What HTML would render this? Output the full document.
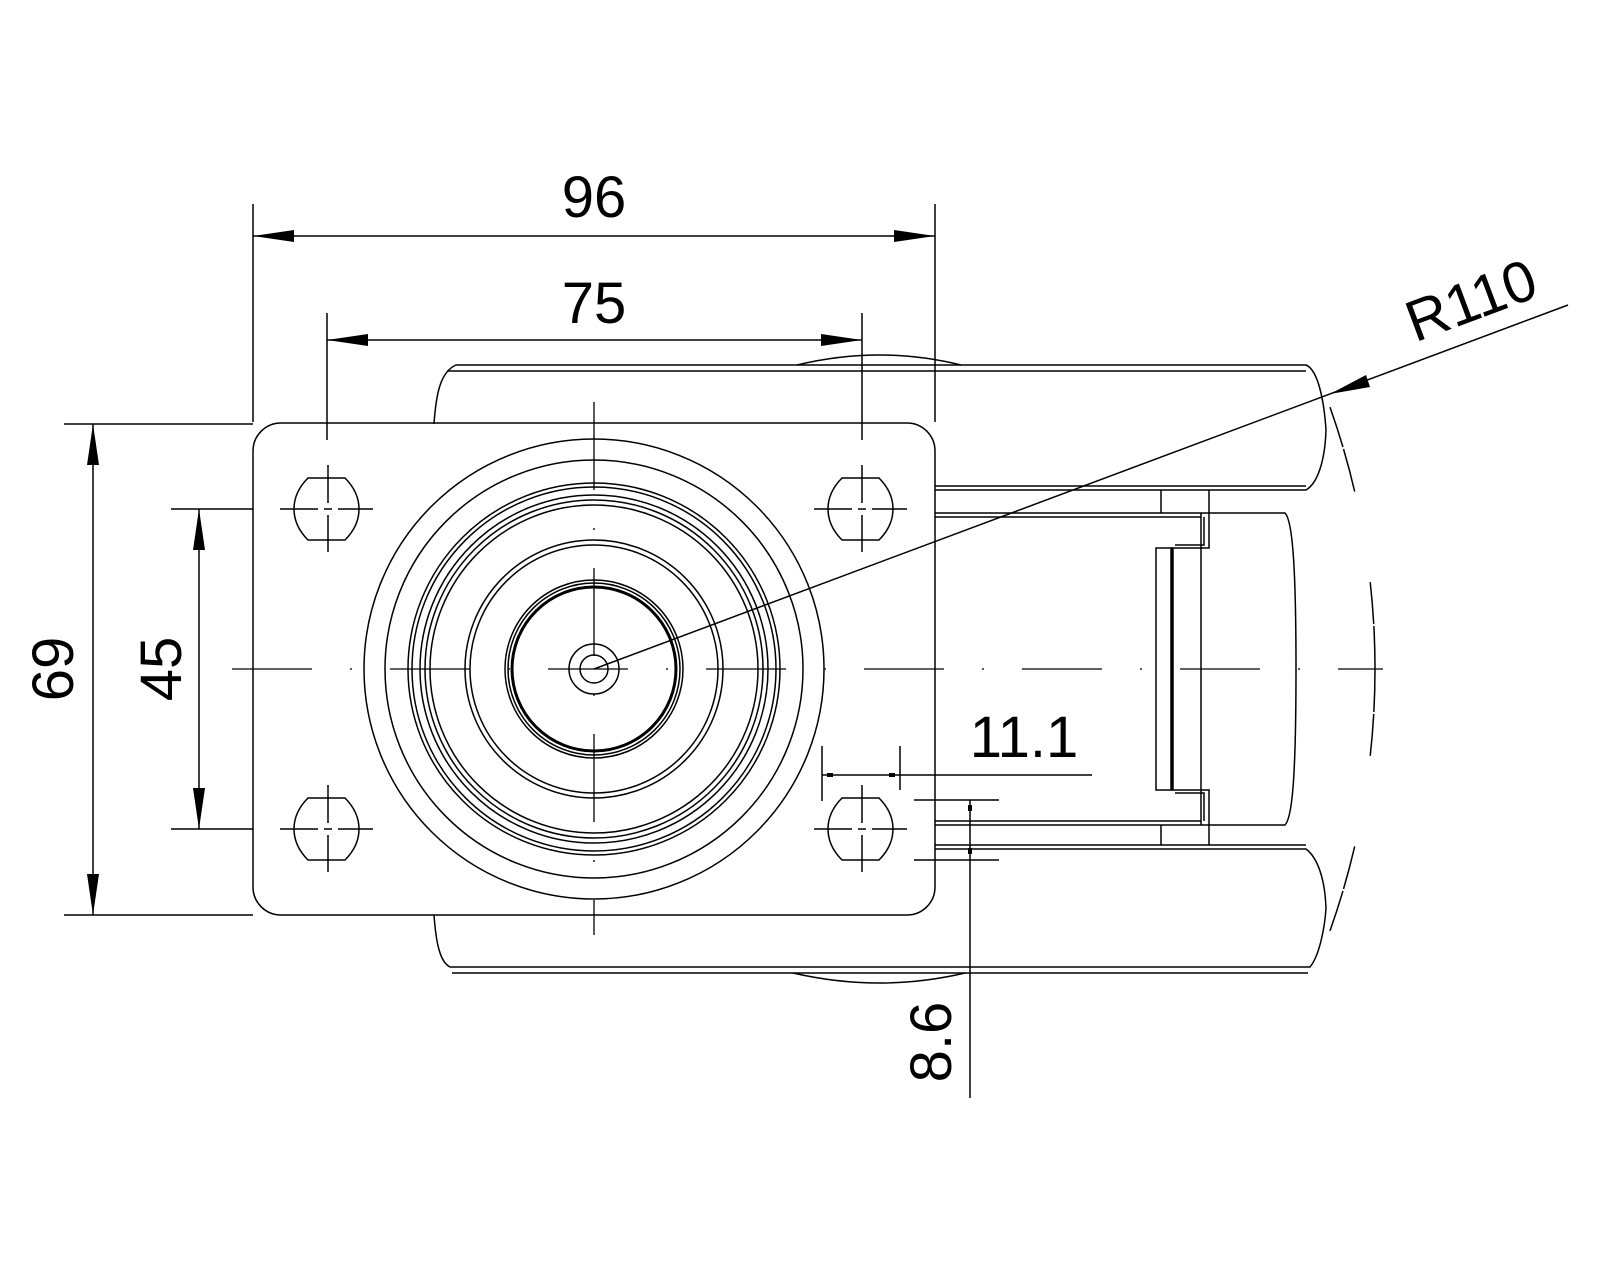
<!DOCTYPE html>
<html><head><meta charset="utf-8"><style>
html,body{margin:0;padding:0;background:#fff}
svg{display:block}
text{font-family:"Liberation Sans",sans-serif;fill:#000}
</style></head><body>
<svg width="1600" height="1280" viewBox="0 0 1600 1280" xmlns="http://www.w3.org/2000/svg">
<g fill="none" stroke="#000" stroke-width="1.5">
<!-- top rail -->
<path d="M434,424 C436,395 440,372 456,365 L1306,365 C1318,370 1324,400 1326,430 C1325,460 1318,483 1306,490 L935,490"/>
<path d="M447,371 L1306,371"/>
<path d="M935,486 L1306,486"/>
<!-- bottom rail -->
<path d="M434,915 C436,943 440,962 450,967 L1310,967 C1320,955 1325,925 1326,908 C1325,880 1318,858 1306,849 L935,849"/>
<path d="M452,973 L1308,973"/>
<path d="M935,845 L1306,845"/>
<!-- wheel arcs beyond rails -->
<path d="M797,365 Q880,345 961,365"/>
<path d="M793,973 Q880,993 965,973"/>
<!-- wheel body -->
<path d="M935,513 L1285,513 C1292,520 1296,560 1296,669 C1296,780 1292,818 1285,825 L935,825"/>
<path d="M935,517 L1201,517 M935,821 L1201,821"/>
<path d="M1201,513 L1201,825"/>
<path d="M1161,490 L1161,513 M1209,490 L1209,513 M1161,825 L1161,845 M1209,825 L1209,845"/>
<path d="M1209,513 L1209,548 L1172,548 L1172,790 L1209,790 L1209,825"/>
<path d="M1204,517 L1204,545 L1175,545 M1175,793 L1204,793 L1204,821"/>
<rect x="1156" y="548" width="16" height="242"/>
<path d="M1172,548 L1172,790" stroke-width="3.5"/>
<!-- plate -->
<rect x="253" y="423" width="682" height="492" rx="28"/>
<!-- holes -->
<path d="M308,478 L345,478 C355,488 359,498 359,509 C359,520 355,530 345,540 L308,540 C298,530 294,520 294,509 C294,498 298,488 308,478 Z"/>
<path d="M842,478 L879,478 C889,488 893,498 893,509 C893,520 889,530 879,540 L842,540 C832,530 828,520 828,509 C828,498 832,488 842,478 Z"/>
<path d="M308,798 L345,798 C355,808 359,818 359,829 C359,840 355,850 345,860 L308,860 C298,850 294,840 294,829 C294,818 298,808 308,798 Z"/>
<path d="M842,798 L879,798 C889,808 893,818 893,829 C893,840 889,850 879,860 L842,860 C832,850 828,840 828,829 C828,818 832,808 842,798 Z"/>
<!-- circles -->
<circle cx="594" cy="669" r="230"/>
<circle cx="594" cy="669" r="209"/>
<circle cx="594" cy="669" r="186"/>
<circle cx="594" cy="669" r="182"/>
<circle cx="594" cy="669" r="174"/>
<circle cx="594" cy="669" r="169"/>
<circle cx="594" cy="669" r="164"/>
<circle cx="594" cy="669" r="129"/>
<circle cx="594" cy="669" r="124"/>
<circle cx="594" cy="669" r="89"/>
<circle cx="594" cy="669" r="86"/>
<circle cx="594" cy="669" r="82" stroke-width="3"/>
<circle cx="594" cy="669" r="25"/>
<circle cx="594" cy="669" r="14"/>
<!-- dashed R110 arc -->
<path d="M1375,669 A781,781 0 0 0 1308,352" stroke-dasharray="44 2 42 92" stroke-dashoffset="1"/>
<path d="M1375,669 A781,781 0 0 1 1308,986" stroke-dasharray="44 2 42 92" stroke-dashoffset="1"/>
<!-- centerlines -->
<path d="M232,669 L1383,669" stroke-dasharray="80 38 2 38" stroke-width="1.3"/>
<path d="M594,402 L594,935" stroke-dasharray="88 38 2 38" stroke-width="1.3"/>
<!-- hole crosshairs -->
<path d="M280,509 L318,509 M324,509 L332,509 M338,509 L373,509 M328,465 L328,503 M328,515 L328,552"/>
<path d="M814,509 L852,509 M858,509 L866,509 M872,509 L907,509 M862,465 L862,503 M862,515 L862,552"/>
<path d="M280,829 L318,829 M324,829 L332,829 M338,829 L373,829 M328,785 L328,823 M328,835 L328,872"/>
<path d="M814,829 L852,829 M858,829 L866,829 M872,829 L907,829 M862,785 L862,823 M862,835 L862,872"/>
<!-- dimension lines -->
<path d="M253,204 L253,422 M935,204 L935,422 M253,236 L935,236"/>
<path d="M327,313 L327,440 M862,313 L862,440 M327,340 L862,340"/>
<path d="M64,424 L253,424 M64,915 L253,915 M93,424 L93,915"/>
<path d="M171,509 L253,509 M171,829 L253,829 M199,509 L199,829"/>
<path d="M822,746 L822,801 M900,746 L900,790 M822,775 L1092,775"/>
<path d="M914,800 L999,800 M914,860 L999,860 M970,800 L970,1098"/>
<path d="M594,669 L1568,305"/>
</g>
<g fill="#000">
<polygon points="253,236 294,230 294,242"/>
<polygon points="935,236 894,230 894,242"/>
<polygon points="327,340 368,334 368,346"/>
<polygon points="862,340 821,334 821,346"/>
<polygon points="93,424 87,465 99,465"/>
<polygon points="93,915 87,874 99,874"/>
<polygon points="199,509 193,550 205,550"/>
<polygon points="199,829 193,788 205,788"/>
<polygon points="1330,394 1366,375 1370,387"/>
<rect x="827" y="773" width="6" height="4"/>
<rect x="889" y="773" width="6" height="4"/>
<rect x="968" y="805" width="4" height="6"/>
<rect x="968" y="848" width="4" height="6"/>
</g>
<g font-size="58">
<text x="594" y="217" text-anchor="middle">96</text>
<text x="594" y="323" text-anchor="middle">75</text>
<text x="1024" y="757" text-anchor="middle">11.1</text>
<text transform="translate(73,669) rotate(-90)" text-anchor="middle">69</text>
<text transform="translate(181,669) rotate(-90)" text-anchor="middle">45</text>
<text transform="translate(951,1042) rotate(-90)" text-anchor="middle">8.6</text>
<text transform="translate(1478,319) rotate(-20.5)" text-anchor="middle">R110</text>
</g>
</svg>
</body></html>
